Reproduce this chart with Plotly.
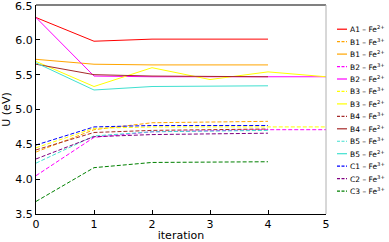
import plotly.graph_objects as go

iters5 = [0, 1, 2, 3, 4]
iters6 = [0, 1, 2, 3, 4, 5]

A1_Fe2 = [6.32, 5.98, 6.01, 6.01, 6.01]
B1_Fe3 = [4.39, 4.71, 4.81, 4.82, 4.83]
B1_Fe2 = [5.72, 5.65, 5.64, 5.64, 5.64]
B2_Fe3 = [4.05, 4.60, 4.68, 4.70, 4.71, 4.71]
B2_Fe2 = [6.32, 5.48, 5.47, 5.47, 5.47, 5.47]
B3_Fe3 = [4.45, 4.73, 4.75, 4.75, 4.75, 4.75]
B3_Fe2 = [5.69, 5.33, 5.60, 5.43, 5.54, 5.47]
B4_Fe3 = [4.42, 4.67, 4.70, 4.71, 4.72]
B4_Fe2 = [5.65, 5.50, 5.48, 5.47, 5.47]
B5_Fe3 = [4.23, 4.62, 4.68, 4.69, 4.70]
B5_Fe2 = [5.67, 5.28, 5.33, 5.33, 5.34]
C1_Fe3 = [4.49, 4.75, 4.77, 4.77, 4.77]
C2_Fe3 = [4.29, 4.61, 4.64, 4.65, 4.66]
C3_Fe3 = [3.68, 4.165, 4.24, 4.25, 4.25]

y_ticks = [3.5, 4.0, 4.5, 5.0, 5.5, 6.0, 6.5]
y_ticklabels = ["3.5", "4.0", "4.5", "5.0", "5.5", "6.0", "6.5"]
x_ticks = [0, 1, 2, 3, 4, 5]

series = [
    ("A1", "2+", iters5, A1_Fe2, "#ff0000", "solid"),
    ("B1", "3+", iters5, B1_Fe3, "#ffa500", "dash"),
    ("B1", "2+", iters5, B1_Fe2, "#ffa500", "solid"),
    ("B2", "3+", iters6, B2_Fe3, "#ff00ff", "dash"),
    ("B2", "2+", iters6, B2_Fe2, "#ff00ff", "solid"),
    ("B3", "3+", iters6, B3_Fe3, "#ffff00", "dash"),
    ("B3", "2+", iters6, B3_Fe2, "#ffff00", "solid"),
    ("B4", "3+", iters5, B4_Fe3, "#a52a2a", "dash"),
    ("B4", "2+", iters5, B4_Fe2, "#a52a2a", "solid"),
    ("B5", "3+", iters5, B5_Fe3, "#40e0d0", "dash"),
    ("B5", "2+", iters5, B5_Fe2, "#40e0d0", "solid"),
    ("C1", "3+", iters5, C1_Fe3, "#0000ff", "dash"),
    ("C2", "3+", iters5, C2_Fe3, "#800080", "dash"),
    ("C3", "3+", iters5, C3_Fe3, "#008000", "dash"),
]

W, H = 389, 242
L, R, T, B = 36, 63, 5, 28
pw, ph = W - L - R, H - T - B
FONT = "DejaVu Sans"

fig = go.Figure()
shapes = []
annotations = []
for i, (site, ch, xs, ys, col, dash) in enumerate(series):
    d = "solid" if dash == "solid" else "4px,2px"
    fig.add_trace(go.Scatter(x=xs, y=ys, mode="lines", showlegend=False,
                             line=dict(color=col, width=1, dash=d)))
    ypx = 29.2 + 12.45 * i
    yp = 1 - (ypx - T) / ph
    x0 = (337 - L) / pw
    x1 = (347 - L) / pw
    shapes.append(dict(type="line", xref="paper", yref="paper", x0=x0, x1=x1, y0=yp, y1=yp,
                       line=dict(color=col, width=1.2, dash="3px,1.5px" if dash != "solid" else "solid")))
    annotations.append(dict(xref="paper", yref="paper", x=(348 - L) / pw, y=yp, xanchor="left",
                            yanchor="middle", showarrow=False,
                            text=f"{site} \u2013 Fe<sup>{ch}</sup>",
                            font=dict(family=FONT, size=7.5, color="#000000")))

# top tick label (plotly hides it at the div edge) drawn as a text at the tick value
annotations.append(dict(xref="paper", yref="y", x=0, y=y_ticks[-1], xanchor="right",
                        yanchor="middle", showarrow=False, xshift=-1, yshift=-1,
                        text=y_ticklabels[-1], font=dict(family=FONT, size=11, color="#000000")))

# top and right spines
shapes.append(dict(type="line", xref="paper", yref="paper", x0=0, x1=1, y0=1, y1=1,
                   line=dict(color="#808080", width=2)))
shapes.append(dict(type="line", xref="paper", yref="paper", x0=1, x1=1, y0=0, y1=1,
                   line=dict(color="#b0b0b0", width=1)))

fig.update_layout(
    width=W, height=H,
    margin=dict(l=L, r=R, t=T, b=B, autoexpand=False),
    plot_bgcolor="white", paper_bgcolor="white",
    font=dict(family=FONT, size=11, color="#000000"),
    shapes=shapes, annotations=annotations,
    xaxis=dict(range=[0, 5], tickvals=x_ticks, ticks="inside", ticklen=4,
               tickcolor="black", showline=True, linecolor="black", linewidth=1,
               showgrid=False, zeroline=False,
               title=dict(text="iteration", standoff=2, font=dict(size=11))),
    yaxis=dict(range=[3.5, 6.5], tickvals=y_ticks,
               ticktext=y_ticklabels[:-1] + [""],
               ticks="inside", ticklen=4,
               tickcolor="black", showline=True, linecolor="black", linewidth=1,
               showgrid=False, zeroline=False,
               title=dict(text="U (eV)", standoff=2, font=dict(size=11))),
)

fig.write_html("out.html", config={"displayModeBar": False},
               post_script="document.body.style.margin='0';document.body.style.overflow='hidden';")
